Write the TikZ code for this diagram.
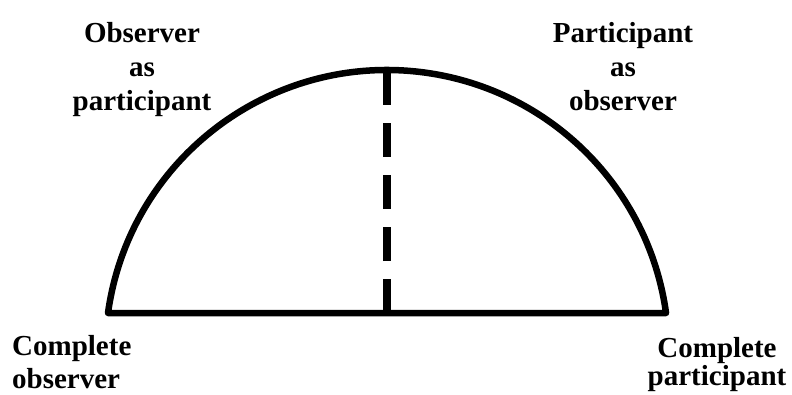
\documentclass[tikz,border=0pt]{standalone}
\usepackage{fontspec}
\setmainfont{Liberation Serif}

\begin{document}
\begin{tikzpicture}[x=1pt,y=1pt,
    role/.style={font=\bfseries\fontsize{29}{34}\selectfont, inner sep=0pt}]
        \useasboundingbox (0,0) rectangle (792,394);
        \coordinate (A) at (108,81);
        \coordinate (B) at (666,81);
        \coordinate (T) at (387,324);
        \coordinate (M) at (387,81);
        \draw[line width=6.5pt, line join=round] (A) arc[start angle=172.1, end angle=7.9, radius=281.7] -- cycle;
        \draw[line width=8pt, dash pattern=on 34pt off 18pt] (M) -- (T);
        \node[role, align=center, anchor=north] (oap) at (142,372) {Observer\\as\\participant};
        \node[role, align=center, anchor=north] (pao) at (623,372) {Participant\\as\\observer};
        \node[role, align=left, anchor=north west] (cob) at (12,59) {Complete\\[-1pt]observer};
        \node[role, align=center, anchor=north] (cpa) at (717,57) {Complete\\[-6pt]participant};
\end{tikzpicture}
\end{document}
